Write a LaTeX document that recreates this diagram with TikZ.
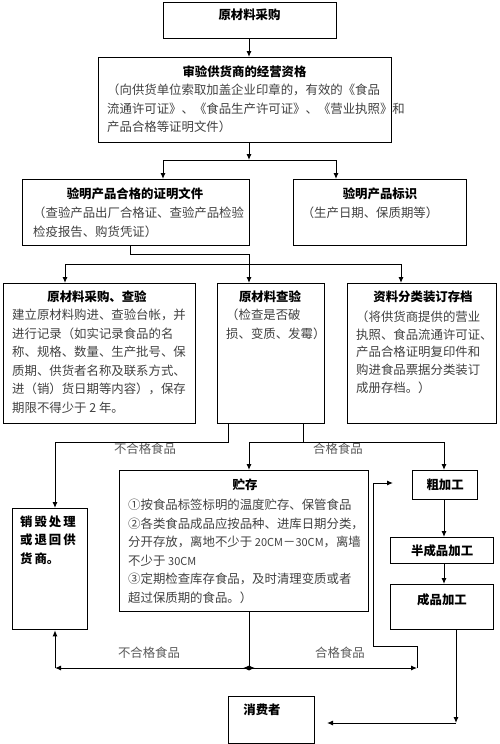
\documentclass[tikz,border=0pt]{standalone}
\usepackage{fontspec}
\setmainfont{Noto Sans CJK SC}
\usepackage{tikz}
\usetikzlibrary{arrows.meta}
\newcommand{\latn}[1]{{\fontsize{11pt}{18.5pt}\selectfont #1}}
\tikzset{
  >={Latex[length=6pt,width=5pt]},
  every node/.style={font=\fontsize{12.4pt}{18.5pt}\selectfont, inner sep=0pt},
  box/.style={draw, line width=1.3pt, anchor=north west},
  ttl/.style={font=\fontsize{12.4pt}{18.5pt}\selectfont\bfseries},
  txt/.style={align=left, anchor=north west, text=black!75},
  lbl/.style={text=black!65},
  conn/.style={line width=1pt},
}
\begin{document}
\begin{tikzpicture}[x=1pt, y=-1pt]
\useasboundingbox (0,0) rectangle (500,744);
\node[box, minimum width=173pt, minimum height=36.5pt] (B1) at (163,1.5) {};
\node[box, minimum width=293pt, minimum height=85pt] (B2) at (98,57) {};
\node[box, minimum width=227pt, minimum height=66pt] (B3) at (22,179) {};
\node[box, minimum width=173pt, minimum height=66pt] (B4) at (293,179) {};
\node[box, minimum width=192pt, minimum height=140pt] (B5) at (3,283) {};
\node[box, minimum width=107pt, minimum height=140pt] (B6) at (217,283) {};
\node[box, minimum width=149pt, minimum height=140pt] (B7) at (347,283) {};
\node[box, minimum width=75pt, minimum height=121pt] (B8) at (12,508) {};
\node[box, minimum width=249pt, minimum height=141pt] (B9) at (119,470) {};
\node[box, minimum width=65pt, minimum height=29pt] (B10) at (412,470) {};
\node[box, minimum width=103pt, minimum height=26pt] (B11) at (390,537) {};
\node[box, minimum width=103pt, minimum height=45pt] (B12) at (390,584) {};
\node[box, minimum width=86pt, minimum height=47pt] (B13) at (228,696) {};

\node[ttl] (T1) at (249.5,15) {原材料采购};
\node[ttl] (T2) at (244.5,72) {审验供货商的经营资格};
\node[ttl] (T3) at (135,194) {验明产品合格的证明文件};
\node[ttl] (T4) at (380,194) {验明产品标识};
\node[ttl] (T5) at (97,297) {原材料采购、查验};
\node[ttl] (T6) at (270,297) {原材料查验};
\node[ttl] (T7) at (423,297) {资料分类装订存档};
\node[ttl, align=left, anchor=north west] (T8) at (20,515.5) {销\kern2pt 毁\kern2pt 处\kern2pt 理\\或\kern2pt 退\kern2pt 回\kern2pt 供\\货\kern2pt 商。};
\node[ttl] (T9) at (245,485) {贮存};
\node[ttl] (T10) at (B10) {粗加工};
\node[ttl] (T11) at (B11) {半成品加工};
\node[ttl] (T12) at (442,600) {成品加工};
\node[ttl] (T13) at (262,710) {消费者};

\node[txt] (P2) at (107,83.8) {（向供货单位索取加盖企业印章的，有效的《食品\\流通许可证》、《食品生产许可证》、《营业执照》和\\产品合格等证明文件）};
\node[txt] (P3) at (33,206.8) {（查验产品出厂合格证、查验产品检验\\检疫报告、购货凭证）};
\node[txt, anchor=center] (P4) at (370,213) {（生产日期、保质期等）};
\node[txt] (P5) at (12,308.8) {建立原材料购进、查验台帐，并\\进行记录（如实记录食品的名\\称、规格、数量、生产批号、保\\质期、供货者名称及联系方式、\\进（销）货日期等内容），保存\\期限不得少于 2 年。};
\node[txt] (P6) at (226,308.8) {（检查是否破\\损、变质、发霉）};
\node[txt, font=\fontsize{12.4pt}{17.6pt}\selectfont] (P7) at (356,310.8) {（将供货商提供的营业\\执照、食品流通许可证、\\产品合格证明复印件和\\购进食品票据分类装订\\成册存档。）};
\node[txt] (P9) at (128,498.8) {①按食品标签标明的温度贮存、保管食品\\②各类食品成品应按品种、进库日期分类，\\分开存放，离地不少于 \latn{20CM}－\latn{30CM}，离墙\\不少于 \latn{30CM}\\③定期检查库存食品，及时清理变质或者\\超过保质期的食品。）};

\node[lbl] (L1) at (145,448.5) {不合格食品};
\node[lbl] (L2) at (338,448.5) {合格食品};
\node[lbl] (L3) at (149,653) {不合格食品};
\node[lbl] (L4) at (340,653) {合格食品};

\coordinate (J1) at (249,160);
\coordinate (J1L) at (163,160);
\coordinate (J1R) at (336,160);
\coordinate (J2) at (249,264);
\coordinate (J2L) at (65,264);
\coordinate (J2R) at (401,264);
\coordinate (J3) at (130,254);
\coordinate (J4L) at (55,442);
\coordinate (J4a) at (228,442);
\coordinate (J4b) at (303,442);
\coordinate (J4M) at (249,442);
\coordinate (J4R) at (444,442);
\coordinate (J5) at (249,668);
\coordinate (J5L) at (55,668);
\coordinate (J5R) at (417,668);
\coordinate (J6) at (373,646);
\coordinate (J7) at (393,483);
\coordinate (K1) at (456,723);
\coordinate (K2) at (327,723);

\draw[conn,->] (B1.south -| J1) -- (B2.north -| J1);
\draw[conn,->] (B2.south -| J1) -- (J1);
\draw[conn] (J1L) -- (J1R);
\draw[conn,->] (J1L) -- (B3.north -| J1L);
\draw[conn,->] (J1R) -- (B4.north -| J1R);
\draw[conn] (B3.south -| J3) -- (J3) -- (J3 -| J2) -- (J2);
\draw[conn] (J2L) -- (J2R);
\draw[conn,->] (J2L) -- (B5.north -| J2L);
\draw[conn,->] (J2) -- (B6.north -| J2);
\draw[conn,->] (J2R) -- (B7.north -| J2R);
\draw[conn] (B6.south -| J4a) -- (J4a) -- (J4L);
\draw[conn,->] (J4L) -- (B8.north -| J4L);
\draw[conn] (B6.south -| J4b) -- (J4b);
\draw[conn] (J4M) -- (J4R);
\draw[conn,->] (J4M) -- (B9.north -| J4M);
\draw[conn,->] (J4R) -- (B10.north -| J4R);
\draw[conn,->] (B10.south -| J4R) -- (B11.north -| J4R);
\draw[conn,->] (B11.south -| J4R) -- (B12.north -| J4R);
\draw[conn] (B9.south -| J5) -- (J5);
\draw[conn,->] (J5) -- (J5L);
\draw[conn,->] (J5) -- ++(-6,0);
\draw[conn,->] (J5L) -- (B8.south -| J5L);
\draw[conn,->] (J5) -- (J5R);
\draw[conn,->] (J5) -- ++(6,0);
\draw[conn,->] (J5R) -- (J5R |- J6) -- (J6) -- (J6 |- J7) -- (J7);
\draw[conn,->] (B12.south -| K1) -- (K1);
\draw[conn,->] (K1) -- (K2);
\end{tikzpicture}
\end{document}
